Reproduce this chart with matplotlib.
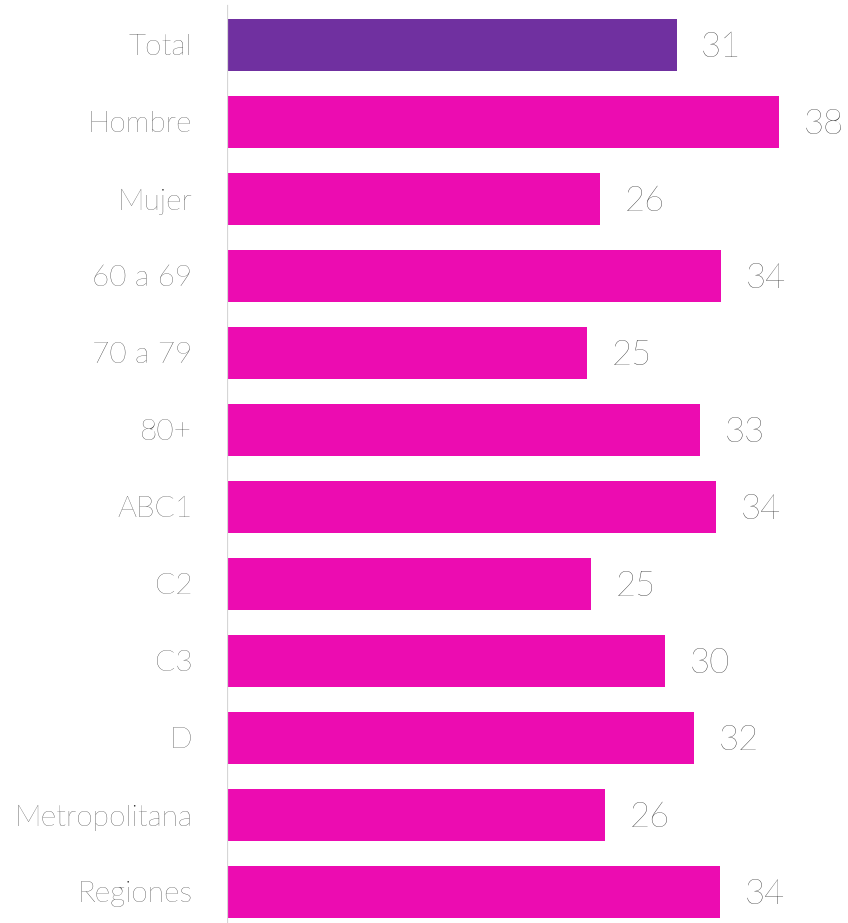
import matplotlib.pyplot as plt

categories = ["Total", "Hombre", "Mujer", "60 a 69", "70 a 79", "80+",
              "ABC1", "C2", "C3", "D", "Metropolitana", "Regiones"]
values = [31.0, 38.1, 25.7, 34.1, 24.8, 32.6, 33.7, 25.1, 30.2, 32.2, 26.1, 34.0]
labels = [31, 38, 26, 34, 25, 33, 34, 25, 30, 32, 26, 34]

purple = "#7030A0"
magenta = "#EC0CB1"
colors = [purple] + [magenta] * (len(values) - 1)

plt.rcParams['font.family'] = ['Lato', 'DejaVu Sans']

fig = plt.figure(figsize=(8.48, 9.23), dpi=100)
ax = fig.add_axes([227 / 848, 0, 1 - 227 / 848, 1])

y = list(range(len(categories)))
ax.barh(y, values, height=0.675, color=colors)

for yi, v, lab in zip(y, values, labels):
    ax.text(v + 1.7, yi + 0.03, str(lab), va="center", ha="left",
            fontsize=25, fontweight="light", color="#222222")

ax.set_yticks(y)
ax.set_yticklabels(categories, fontsize=21.5, fontweight="light", color="#2a2a2a")
ax.tick_params(axis="y", length=0, pad=25)
ax.set_xticks([])

ax.set_xlim(0, 621 / 14.5)
ax.set_ylim(11.403, -0.584)

for s in ax.spines.values():
    s.set_visible(False)
ax.axvline(0, ymin=0, ymax=(923 - 6) / 923, color="#d6d6d6", lw=1.6)

fig.savefig("out.png", dpi=100)
